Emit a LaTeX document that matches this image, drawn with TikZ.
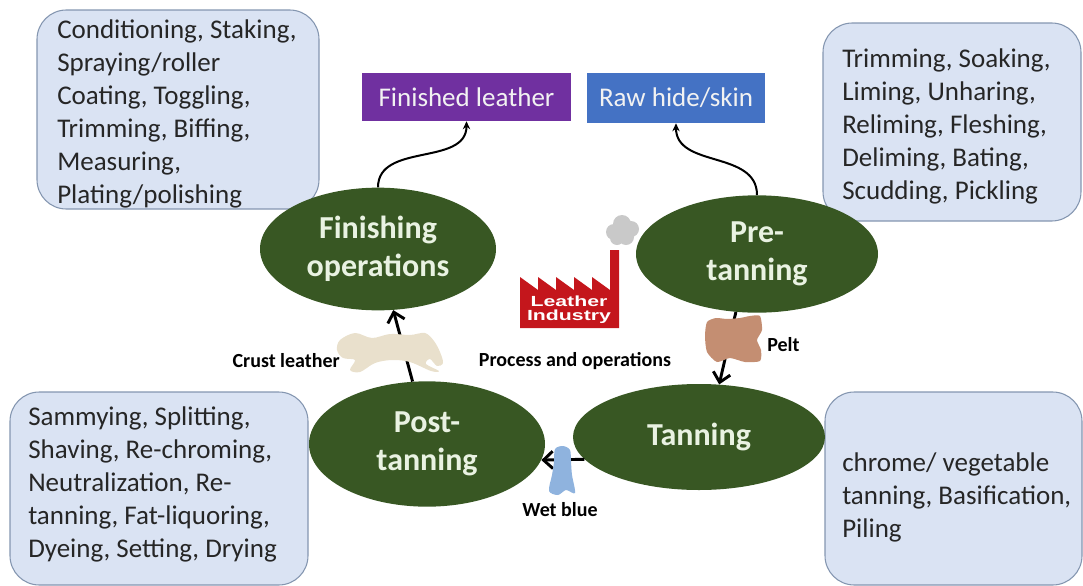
\documentclass[tikz,border=0pt]{standalone}
\usepackage{fontspec}
\setmainfont{Carlito}
\newfontfamily\logofont{Liberation Sans}
\usetikzlibrary{arrows.meta,shapes.geometric}
\definecolor{stagegreen}{HTML}{385723}
\definecolor{stagetext}{HTML}{E9F2E2}
\definecolor{notefill}{HTML}{DAE3F3}
\definecolor{noteline}{HTML}{8496B0}
\definecolor{finpurple}{HTML}{7030A0}
\definecolor{rawblue}{HTML}{4472C4}
\definecolor{factoryred}{HTML}{C4161C}
\definecolor{smokegray}{HTML}{C9C9C9}
\definecolor{crustfill}{HTML}{E9E0CC}
\definecolor{peltfill}{HTML}{C48E72}
\definecolor{wetbluefill}{HTML}{8FB3DE}
\begin{document}
\begin{tikzpicture}[x=0.75pt,y=-0.75pt,
  stage/.style={ellipse, fill=stagegreen, inner sep=0pt, text=stagetext,
    font=\fontsize{24}{28.5}\selectfont\bfseries, align=center},
  notebox/.style={fill=notefill, draw=noteline, line width=0.8pt, rounded corners=22pt},
  notetext/.style={anchor=north west, inner sep=0pt, align=left,
    font=\fontsize{20.25}{24.75}\selectfont, text=black!85},
  endbox/.style={inner sep=0pt, text=white!95!black, font=\fontsize{20.25}{24.75}\selectfont},
  tag/.style={font=\fontsize{15}{18}\selectfont\bfseries, inner sep=0pt},
  flow/.style={line width=2.2pt, -{Straight Barb[length=7pt,width=13pt]}},
  curvy/.style={line width=1.5pt, -{Stealth[length=6pt,width=5.5pt]}}
]
\useasboundingbox (0,0) rectangle (1083,586);
\clip (0,0) rectangle (1083,586);

% operation lists
\draw[notebox] (37,10) rectangle (319,209);
\draw[notebox] (823,23) rectangle (1081,221);
\draw[notebox] (10,392) rectangle (308,585);
\draw[notebox] (825,392) rectangle (1082,585);

\node[notetext] (finops) at (57,15) {\strut Conditioning, Staking,\\Spraying/roller\\Coating, Toggling,\\Trimming, Biffing,\\Measuring,\\Plating/polishing};
\node[notetext] (preops) at (842,44) {\strut Trimming, Soaking,\\Liming, Unharing,\\Reliming, Fleshing,\\Deliming, Bating,\\Scudding, Pickling};
\node[notetext] (postops) at (28,402) {\strut Sammying, Splitting,\\Shaving, Re-chroming,\\Neutralization, Re-\\tanning, Fat-liquoring,\\Dyeing, Setting, Drying};
\node[notetext] (tanops) at (842,448) {\strut chrome/ vegetable\\tanning, Basification,\\Piling};

% process stages
\node[stage, minimum width=177pt, minimum height=92pt] (fin) at (378,249) {Finishing\\operations};
\node[stage, minimum width=181.5pt, minimum height=88pt] (pre) at (757,254) {Pre-\\tanning};
\node[stage, minimum width=177pt, minimum height=94pt] (post) at (427,444) {Post-\\tanning};
\node[stage, minimum width=189pt, minimum height=79.5pt] (tan) at (699,437) {Tanning};

% start and end products
\node[endbox, fill=finpurple, minimum width=156.75pt, minimum height=36pt] (fl) at (466.5,97) {Finished leather};
\node[endbox, fill=rawblue, minimum width=133.5pt, minimum height=37.5pt] (raw) at (676,98) {Raw hide/skin};

% connectors
\draw[curvy] (fin.north) .. controls +(0,-45) and +(0,45) .. (fl.south);
\draw[curvy] (pre.north) .. controls +(0,-45) and +(0,45) .. (raw.south);
\draw[flow] (pre.250) -- (tan.69);
\draw[flow] (tan.191) -- (post.352);
\draw[flow] (post.103) -- (fin.284);

% intermediate products
\fill[crustfill] plot[smooth cycle, tension=0.55] coordinates {(340,340) (355,333) (372,338) (390,334) (410,335) (425,333) (434,341) (440,352) (443,363) (437,366) (430,359) (426,364) (439,371) (431,371) (410,362) (392,360) (375,363) (360,372) (350,370) (355,360) (343,358) (337,350)};
\fill[peltfill] plot[smooth cycle, tension=0.4] coordinates {(707,322) (716,318) (727,319) (740,318) (750,316) (760,316) (762,330) (757,340) (761,350) (760,361) (745,362) (730,358) (717,362) (707,352) (705,336)};
\fill[wetbluefill] plot[smooth cycle, tension=0.5] coordinates {(555,449) (563,446) (570,450) (571,462) (572,475) (575,493) (566,490) (558,495) (549,491) (552,475) (554,462)};

\node[tag, anchor=east] (crust) at (340,361) {Crust leather};
\node[tag] (proc) at (575,361) {Process and operations};
\node[tag, anchor=west] (pelt) at (767,345) {Pelt};
\node[tag] (wet) at (560,510) {Wet blue};

% factory emblem
\fill[smokegray] (614,232) circle (8) (622,224) circle (9) (631,229) circle (8) (626,237) circle (8) (617,238) circle (7);
\fill[factoryred] (520,328) -- (520,277) -- (538,290) -- (538,277) -- (556,290) -- (556,277) -- (574,290) -- (574,277) -- (592,290) -- (592,277) -- (610,290) -- (610,250) -- (619,250) -- (619,328) -- cycle;
\node[inner sep=0pt, text=white, align=center, font=\logofont\bfseries\fontsize{11}{10.5}\selectfont] (logo) at (569,310) {\scalebox{1.45}[1]{Leather}\\\scalebox{1.45}[1]{Industry}};
\end{tikzpicture}
\end{document}
